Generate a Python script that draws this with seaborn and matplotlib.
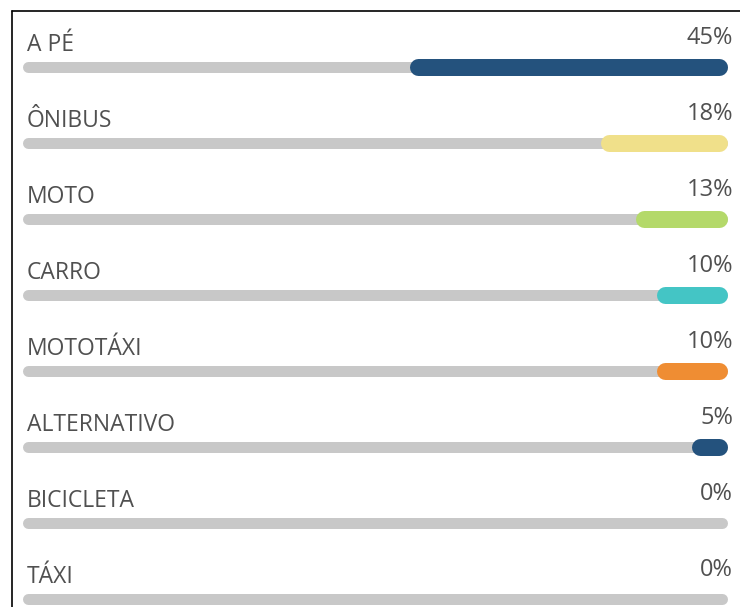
import seaborn as sns
import matplotlib.pyplot as plt
import pandas as pd
from matplotlib.lines import Line2D

sns.set_style('white')
plt.rcParams['font.family'] = ['Open Sans', 'DejaVu Sans']

# data
modes = ['A PÉ', 'ÔNIBUS', 'MOTO', 'CARRO', 'MOTOTÁXI', 'ALTERNATIVO', 'BICICLETA', 'TÁXI']
shares = [45, 18, 13, 10, 10, 5, 0, 0]
labels = ['45%', '18%', '13%', '10%', '10%', '5%', '0%', '0%']
colors = ['#24527d', '#f0e08a', '#b4d96a', '#44c5c5', '#ef8d33', '#24527d', '#24527d', '#24527d']

W, H = 740, 607
fig = plt.figure(figsize=(W / 100, H / 100), dpi=100)
ax = fig.add_axes([0, 0, 1, 1])

# pixel scale: 0..100 % spans x=22..727 px, rows every 76 px starting at 67 px
px_x = 705 / 100
px_y = 76
track_lw = 11 * 72 / 100
bar_lw = 17 * 72 / 100
r_track = 5.5 / px_x
r_bar = 8.5 / px_x

rows = list(range(len(modes)))

# grey tracks
track = pd.DataFrame({
    'x': [r_track, 100 - r_track] * len(modes),
    'y': [r for r in rows for _ in range(2)],
    'mode': [m for m in modes for _ in range(2)],
})
sns.lineplot(data=track, x='x', y='y', units='mode', estimator=None, color='#c8c8c8',
             linewidth=track_lw, solid_capstyle='round', sort=False, ax=ax, legend=False)

# coloured share bars, anchored to the right end
for r, m, v, c in zip(rows, modes, shares, colors):
    if v <= 0:
        continue
    seg = pd.DataFrame({'x': [100 - v + r_bar, 100 - r_bar], 'y': [r, r]})
    sns.lineplot(data=seg, x='x', y='y', color=c, linewidth=bar_lw,
                 solid_capstyle='round', sort=False, ax=ax, legend=False)

for r, m, lab in zip(rows, modes, labels):
    ax.text(5 / px_x, r - 16 / px_y, m, ha='left', va='baseline',
            fontsize=16.5, color='#505050')
    ax.text(711 / px_x, r - 23 / px_y, lab, ha='right', va='baseline',
            fontsize=17, color='#505050')

ax.set_xlim(-22 / px_x, 100 + 13 / px_x)
ax.set_ylim((H - 67) / px_y, -67 / px_y)
ax.set_axis_off()

# frame edges of the cropped figure
fig.add_artist(Line2D([11.5 / W, 11.5 / W], [0, 1 - 11 / H], color='black', linewidth=1.2,
                      transform=fig.transFigure))
fig.add_artist(Line2D([11.5 / W, 1], [1 - 11 / H, 1 - 11 / H], color='black', linewidth=1.2,
                      transform=fig.transFigure))

fig.savefig('out.png', dpi=100, facecolor='white')
